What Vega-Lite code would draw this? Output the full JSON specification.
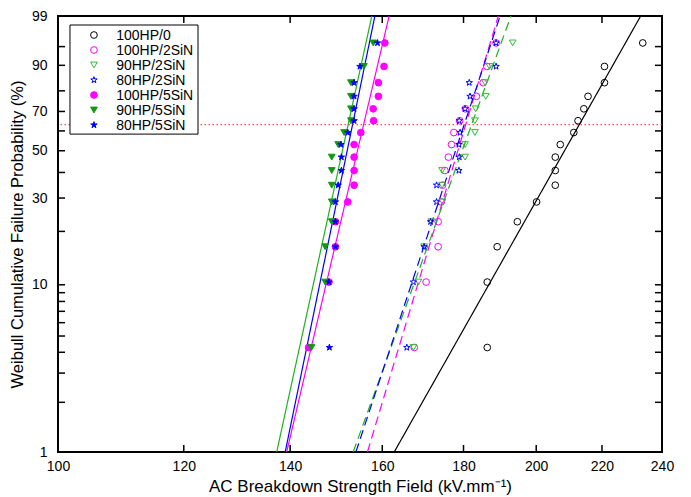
{
  "$schema": "https://vega.github.io/schema/vega-lite/v6.json",
  "width": 604,
  "height": 436,
  "autosize": {"type": "none"},
  "padding": {"left": 58, "top": 16, "right": 29, "bottom": 45},
  "background": "white",
  "config": {
    "view": {"stroke": "black", "strokeWidth": 2},
    "font": "Liberation Sans",
    "axis": {
      "domain": false, "grid": false, "ticks": false, "labelFlush": false, "labelOverlap": false,
      "labelColor": "black", "titleColor": "black", "labelFont": "Liberation Sans", "titleFont": "Liberation Sans",
      "labelFontSize": 14, "titleFontSize": 17, "titleFontWeight": "normal"
    }
  },
  "datasets": {
    "one": [{"F": 63.2}],
    "xticks": [{"E": 120}, {"E": 140}, {"E": 160}, {"E": 180}, {"E": 200}, {"E": 220}],
    "yticks": [{"F": 2}, {"F": 3}, {"F": 4}, {"F": 5}, {"F": 6}, {"F": 7}, {"F": 8}, {"F": 9}, {"F": 10}, {"F": 20}, {"F": 30}, {"F": 40}, {"F": 50}, {"F": 60}, {"F": 70}, {"F": 80}, {"F": 90}, {"F": 95}],
    "legend": [{"series": "100HP/0"}, {"series": "100HP/2SiN"}, {"series": "90HP/2SiN"}, {"series": "80HP/2SiN"}, {"series": "100HP/5SiN"}, {"series": "90HP/5SiN"}, {"series": "80HP/5SiN"}],
    "lines": [
      {"series": "100HP/0", "E": 162.8, "F": 1}, {"series": "100HP/0", "E": 232.7, "F": 99},
      {"series": "100HP/2SiN", "E": 156.6, "F": 1}, {"series": "100HP/2SiN", "E": 189.3, "F": 99},
      {"series": "90HP/2SiN", "E": 153.4, "F": 1}, {"series": "90HP/2SiN", "E": 192.8, "F": 99},
      {"series": "80HP/2SiN", "E": 154.0, "F": 1}, {"series": "80HP/2SiN", "E": 189.8, "F": 99},
      {"series": "100HP/5SiN", "E": 139.3, "F": 1}, {"series": "100HP/5SiN", "E": 161.6, "F": 99},
      {"series": "90HP/5SiN", "E": 137.3, "F": 1}, {"series": "90HP/5SiN", "E": 157.6, "F": 99},
      {"series": "80HP/5SiN", "E": 139.0, "F": 1}, {"series": "80HP/5SiN", "E": 158.3, "F": 99}
    ],
    "points": [
      {"series": "100HP/0", "E": 186.3, "F": 4.27}, {"series": "100HP/0", "E": 186.3, "F": 10.37}, {"series": "100HP/0", "E": 189.0, "F": 16.46}, {"series": "100HP/0", "E": 194.6, "F": 22.56},
      {"series": "100HP/0", "E": 200.1, "F": 28.66}, {"series": "100HP/0", "E": 205.6, "F": 34.76}, {"series": "100HP/0", "E": 205.6, "F": 40.85}, {"series": "100HP/0", "E": 205.6, "F": 46.95},
      {"series": "100HP/0", "E": 207.1, "F": 53.05}, {"series": "100HP/0", "E": 211.2, "F": 59.15}, {"series": "100HP/0", "E": 212.5, "F": 65.24}, {"series": "100HP/0", "E": 214.3, "F": 71.34},
      {"series": "100HP/0", "E": 215.6, "F": 77.44}, {"series": "100HP/0", "E": 220.8, "F": 83.54}, {"series": "100HP/0", "E": 220.8, "F": 89.63}, {"series": "100HP/0", "E": 233.4, "F": 95.73},

      {"series": "100HP/2SiN", "E": 167.6, "F": 4.27}, {"series": "100HP/2SiN", "E": 170.5, "F": 10.37}, {"series": "100HP/2SiN", "E": 173.5, "F": 16.46}, {"series": "100HP/2SiN", "E": 173.5, "F": 22.56},
      {"series": "100HP/2SiN", "E": 174.3, "F": 28.66}, {"series": "100HP/2SiN", "E": 174.6, "F": 34.76}, {"series": "100HP/2SiN", "E": 175.2, "F": 40.85}, {"series": "100HP/2SiN", "E": 176.1, "F": 46.95},
      {"series": "100HP/2SiN", "E": 176.9, "F": 53.05}, {"series": "100HP/2SiN", "E": 177.5, "F": 59.15}, {"series": "100HP/2SiN", "E": 179.0, "F": 65.24}, {"series": "100HP/2SiN", "E": 180.5, "F": 71.34},
      {"series": "100HP/2SiN", "E": 183.4, "F": 77.44}, {"series": "100HP/2SiN", "E": 185.2, "F": 83.54}, {"series": "100HP/2SiN", "E": 186.2, "F": 89.63}, {"series": "100HP/2SiN", "E": 188.7, "F": 95.73},

      {"series": "90HP/2SiN", "E": 167.4, "F": 4.27}, {"series": "90HP/2SiN", "E": 168.6, "F": 10.37}, {"series": "90HP/2SiN", "E": 170.0, "F": 16.46}, {"series": "90HP/2SiN", "E": 171.8, "F": 22.56},
      {"series": "90HP/2SiN", "E": 174.6, "F": 28.66}, {"series": "90HP/2SiN", "E": 174.5, "F": 34.76}, {"series": "90HP/2SiN", "E": 174.5, "F": 40.85}, {"series": "90HP/2SiN", "E": 180.4, "F": 46.95},
      {"series": "90HP/2SiN", "E": 180.4, "F": 53.05}, {"series": "90HP/2SiN", "E": 183.0, "F": 59.15}, {"series": "90HP/2SiN", "E": 183.0, "F": 65.24}, {"series": "90HP/2SiN", "E": 183.2, "F": 71.34},
      {"series": "90HP/2SiN", "E": 185.9, "F": 77.44}, {"series": "90HP/2SiN", "E": 185.7, "F": 83.54}, {"series": "90HP/2SiN", "E": 186.9, "F": 89.63}, {"series": "90HP/2SiN", "E": 193.3, "F": 95.73},

      {"series": "80HP/2SiN", "E": 165.8, "F": 4.27}, {"series": "80HP/2SiN", "E": 167.4, "F": 10.37}, {"series": "80HP/2SiN", "E": 170.0, "F": 16.46}, {"series": "80HP/2SiN", "E": 171.6, "F": 22.56},
      {"series": "80HP/2SiN", "E": 173.1, "F": 28.66}, {"series": "80HP/2SiN", "E": 173.1, "F": 34.76}, {"series": "80HP/2SiN", "E": 178.8, "F": 40.85}, {"series": "80HP/2SiN", "E": 178.9, "F": 46.95},
      {"series": "80HP/2SiN", "E": 178.8, "F": 53.05}, {"series": "80HP/2SiN", "E": 179.1, "F": 59.15}, {"series": "80HP/2SiN", "E": 178.9, "F": 65.24}, {"series": "80HP/2SiN", "E": 180.4, "F": 71.34},
      {"series": "80HP/2SiN", "E": 181.7, "F": 77.44}, {"series": "80HP/2SiN", "E": 181.5, "F": 83.54}, {"series": "80HP/2SiN", "E": 188.7, "F": 89.63}, {"series": "80HP/2SiN", "E": 188.7, "F": 95.73},

      {"series": "100HP/5SiN", "E": 143.8, "F": 4.27}, {"series": "100HP/5SiN", "E": 148.1, "F": 10.37}, {"series": "100HP/5SiN", "E": 149.5, "F": 16.46}, {"series": "100HP/5SiN", "E": 149.5, "F": 22.56},
      {"series": "100HP/5SiN", "E": 152.2, "F": 28.66}, {"series": "100HP/5SiN", "E": 153.6, "F": 34.76}, {"series": "100HP/5SiN", "E": 153.6, "F": 40.85}, {"series": "100HP/5SiN", "E": 153.6, "F": 46.95},
      {"series": "100HP/5SiN", "E": 153.6, "F": 53.05}, {"series": "100HP/5SiN", "E": 155.1, "F": 59.15}, {"series": "100HP/5SiN", "E": 158.0, "F": 65.24}, {"series": "100HP/5SiN", "E": 157.9, "F": 71.34},
      {"series": "100HP/5SiN", "E": 159.1, "F": 77.44}, {"series": "100HP/5SiN", "E": 159.1, "F": 83.54}, {"series": "100HP/5SiN", "E": 160.4, "F": 89.63}, {"series": "100HP/5SiN", "E": 160.6, "F": 95.73},

      {"series": "90HP/5SiN", "E": 144.4, "F": 4.27}, {"series": "90HP/5SiN", "E": 147.3, "F": 10.37}, {"series": "90HP/5SiN", "E": 147.3, "F": 16.46}, {"series": "90HP/5SiN", "E": 148.7, "F": 22.56},
      {"series": "90HP/5SiN", "E": 148.7, "F": 28.66}, {"series": "90HP/5SiN", "E": 148.7, "F": 34.76}, {"series": "90HP/5SiN", "E": 148.7, "F": 40.85}, {"series": "90HP/5SiN", "E": 148.7, "F": 46.95},
      {"series": "90HP/5SiN", "E": 150.1, "F": 53.05}, {"series": "90HP/5SiN", "E": 151.4, "F": 59.15}, {"series": "90HP/5SiN", "E": 152.9, "F": 65.24}, {"series": "90HP/5SiN", "E": 152.9, "F": 71.34},
      {"series": "90HP/5SiN", "E": 152.9, "F": 77.44}, {"series": "90HP/5SiN", "E": 152.9, "F": 83.54}, {"series": "90HP/5SiN", "E": 155.8, "F": 89.63}, {"series": "90HP/5SiN", "E": 157.9, "F": 95.73},

      {"series": "80HP/5SiN", "E": 148.2, "F": 4.27}, {"series": "80HP/5SiN", "E": 148.1, "F": 10.37}, {"series": "80HP/5SiN", "E": 149.5, "F": 16.46}, {"series": "80HP/5SiN", "E": 149.5, "F": 22.56},
      {"series": "80HP/5SiN", "E": 149.5, "F": 28.66}, {"series": "80HP/5SiN", "E": 150.1, "F": 34.76}, {"series": "80HP/5SiN", "E": 150.8, "F": 40.85}, {"series": "80HP/5SiN", "E": 150.8, "F": 46.95},
      {"series": "80HP/5SiN", "E": 150.7, "F": 53.05}, {"series": "80HP/5SiN", "E": 152.2, "F": 59.15}, {"series": "80HP/5SiN", "E": 153.6, "F": 65.24}, {"series": "80HP/5SiN", "E": 153.6, "F": 71.34},
      {"series": "80HP/5SiN", "E": 153.6, "F": 77.44}, {"series": "80HP/5SiN", "E": 153.6, "F": 83.54}, {"series": "80HP/5SiN", "E": 154.9, "F": 89.63}, {"series": "80HP/5SiN", "E": 158.9, "F": 95.73}
    ]
  },
  "resolve": {"scale": {"y": "independent"}},
  "layer": [
    {
      "layer": [
        {
          "data": {"name": "lines"},
          "transform": [{"calculate": "log(-log(1 - datum.F / 100))", "as": "w"}],
          "mark": {"type": "line", "clip": true, "strokeWidth": 1.2},
          "encoding": {
            "x": {
              "field": "E", "type": "quantitative",
              "scale": {"type": "log", "domain": [100, 240], "nice": false},
              "axis": {"orient": "bottom", "values": [100, 120, 140, 160, 180, 200, 220, 240], "title": "AC Breakdown Strength Field (kV.mm⁻¹)", "labelPadding": 7, "titlePadding": 5, "format": "d"}
            },
            "y": {
              "field": "w", "type": "quantitative",
              "scale": {"domain": [-4.60015, 1.52718], "nice": false, "zero": false},
              "axis": {
                "orient": "left",
                "values": [-4.60015, -2.9702, -2.25037, -1.49994, -1.03093, -0.67165, -0.36651, -0.08742, 0.18563, 0.47588, 0.83403, 1.09719, 1.52718],
                "labelExpr": "format(round(100*(1-exp(-exp(datum.value)))), 'd')",
                "title": "Weibull Cumulative Failure Probability (%)", "titleFontSize": 16.5, "labelPadding": 11, "titlePadding": 6
              }
            },
            "detail": {"field": "series"},
            "color": {
              "field": "series", "type": "nominal", "legend": null,
              "scale": {
                "domain": ["100HP/0", "100HP/2SiN", "90HP/2SiN", "80HP/2SiN", "100HP/5SiN", "90HP/5SiN", "80HP/5SiN"],
                "range": ["#000000", "#ff00ff", "#22b022", "#0000ff", "#ff00ff", "#22b022", "#0000ff"]
              }
            },
            "strokeDash": {
              "field": "series", "type": "nominal", "legend": null,
              "scale": {
                "domain": ["100HP/0", "100HP/2SiN", "90HP/2SiN", "80HP/2SiN", "100HP/5SiN", "90HP/5SiN", "80HP/5SiN"],
                "range": [[1, 0], [9, 5], [9, 5], [9, 5], [1, 0], [1, 0], [1, 0]]
              }
            }
          }
        },
        {
          "data": {"name": "one"},
          "transform": [{"calculate": "log(-log(1 - datum.F / 100))", "as": "w"}],
          "mark": {"type": "rule", "color": "#ff2020", "strokeDash": [1.5, 2.5], "strokeWidth": 1},
          "encoding": {"y": {"field": "w", "type": "quantitative"}}
        },
        {
          "data": {"name": "points"},
          "transform": [{"calculate": "log(-log(1 - datum.F / 100))", "as": "w"}],
          "mark": {"type": "point", "strokeWidth": 1, "opacity": 1},
          "encoding": {
            "x": {"field": "E", "type": "quantitative"},
            "y": {"field": "w", "type": "quantitative"},
            "shape": {
              "field": "series", "type": "nominal", "legend": null,
              "scale": {
                "domain": ["100HP/0", "100HP/2SiN", "90HP/2SiN", "80HP/2SiN", "100HP/5SiN", "90HP/5SiN", "80HP/5SiN"],
                "range": ["circle", "circle", "triangle-down", "M0,-1L0.2245,-0.309L0.951,-0.309L0.363,0.118L0.588,0.809L0,0.382L-0.588,0.809L-0.363,0.118L-0.951,-0.309L-0.2245,-0.309Z", "circle", "triangle-down", "M0,-1L0.2245,-0.309L0.951,-0.309L0.363,0.118L0.588,0.809L0,0.382L-0.588,0.809L-0.363,0.118L-0.951,-0.309L-0.2245,-0.309Z"]
              }
            },
            "stroke": {
              "field": "series", "type": "nominal", "legend": null,
              "scale": {
                "domain": ["100HP/0", "100HP/2SiN", "90HP/2SiN", "80HP/2SiN", "100HP/5SiN", "90HP/5SiN", "80HP/5SiN"],
                "range": ["#000000", "#ff00ff", "#33bb33", "#0000ff", "#ff00ff", "#119911", "#0000ff"]
              }
            },
            "fill": {
              "field": "series", "type": "nominal", "legend": null,
              "scale": {
                "domain": ["100HP/0", "100HP/2SiN", "90HP/2SiN", "80HP/2SiN", "100HP/5SiN", "90HP/5SiN", "80HP/5SiN"],
                "range": ["transparent", "transparent", "transparent", "transparent", "#ff00ff", "#119911", "#0000ff"]
              }
            },
            "size": {
              "field": "series", "type": "nominal", "legend": null,
              "scale": {
                "domain": ["100HP/0", "100HP/2SiN", "90HP/2SiN", "80HP/2SiN", "100HP/5SiN", "90HP/5SiN", "80HP/5SiN"],
                "range": [45, 45, 60, 90, 55, 60, 90]
              }
            }
          }
        },
        {
          "data": {"name": "xticks"},
          "mark": {"type": "rule", "color": "black", "strokeWidth": 1.5},
          "encoding": {
            "x": {"field": "E", "type": "quantitative"},
            "y": {"datum": -4.60015},
            "y2": {"datum": -4.50165}
          }
        },
        {
          "data": {"name": "xticks"},
          "mark": {"type": "rule", "color": "black", "strokeWidth": 1.5},
          "encoding": {
            "x": {"field": "E", "type": "quantitative"},
            "y": {"datum": 1.52718},
            "y2": {"datum": 1.42873}
          }
        },
        {
          "data": {"name": "yticks"},
          "transform": [{"calculate": "log(-log(1 - datum.F / 100))", "as": "w"}],
          "mark": {"type": "rule", "color": "black", "strokeWidth": 1.5},
          "encoding": {
            "y": {"field": "w", "type": "quantitative"},
            "x": {"datum": 100},
            "x2": {"datum": 101.02}
          }
        },
        {
          "data": {"name": "yticks"},
          "transform": [{"calculate": "log(-log(1 - datum.F / 100))", "as": "w"}],
          "mark": {"type": "rule", "color": "black", "strokeWidth": 1.5},
          "encoding": {
            "y": {"field": "w", "type": "quantitative"},
            "x": {"datum": 240},
            "x2": {"datum": 237.57}
          }
        },
        {
          "data": {"name": "one"},
          "mark": {"type": "rect", "fill": "white", "stroke": "black", "strokeWidth": 1},
          "encoding": {
            "x": {"datum": 101.75},
            "x2": {"datum": 122.5},
            "y": {"datum": 1.4006},
            "y2": {"datum": -0.1325}
          }
        }
      ]
    },
    {
      "data": {"name": "legend"},
      "encoding": {
        "y": {
          "field": "series", "type": "nominal", "axis": null,
          "scale": {"type": "point", "domain": ["100HP/0", "100HP/2SiN", "90HP/2SiN", "80HP/2SiN", "100HP/5SiN", "90HP/5SiN", "80HP/5SiN"], "range": [19, 109], "padding": 0}
        }
      },
      "layer": [
        {
          "mark": {"type": "point", "strokeWidth": 1, "opacity": 1},
          "encoding": {
            "x": {"datum": 105.35},
            "shape": {"field": "series", "type": "nominal", "legend": null},
            "stroke": {"field": "series", "type": "nominal", "legend": null},
            "fill": {"field": "series", "type": "nominal", "legend": null},
            "size": {"field": "series", "type": "nominal", "legend": null}
          }
        },
        {
          "mark": {"type": "text", "align": "left", "baseline": "middle", "fontSize": 14, "font": "Liberation Sans", "color": "black", "dy": 1},
          "encoding": {
            "x": {"datum": 108.8},
            "text": {"field": "series"}
          }
        }
      ]
    }
  ]
}
